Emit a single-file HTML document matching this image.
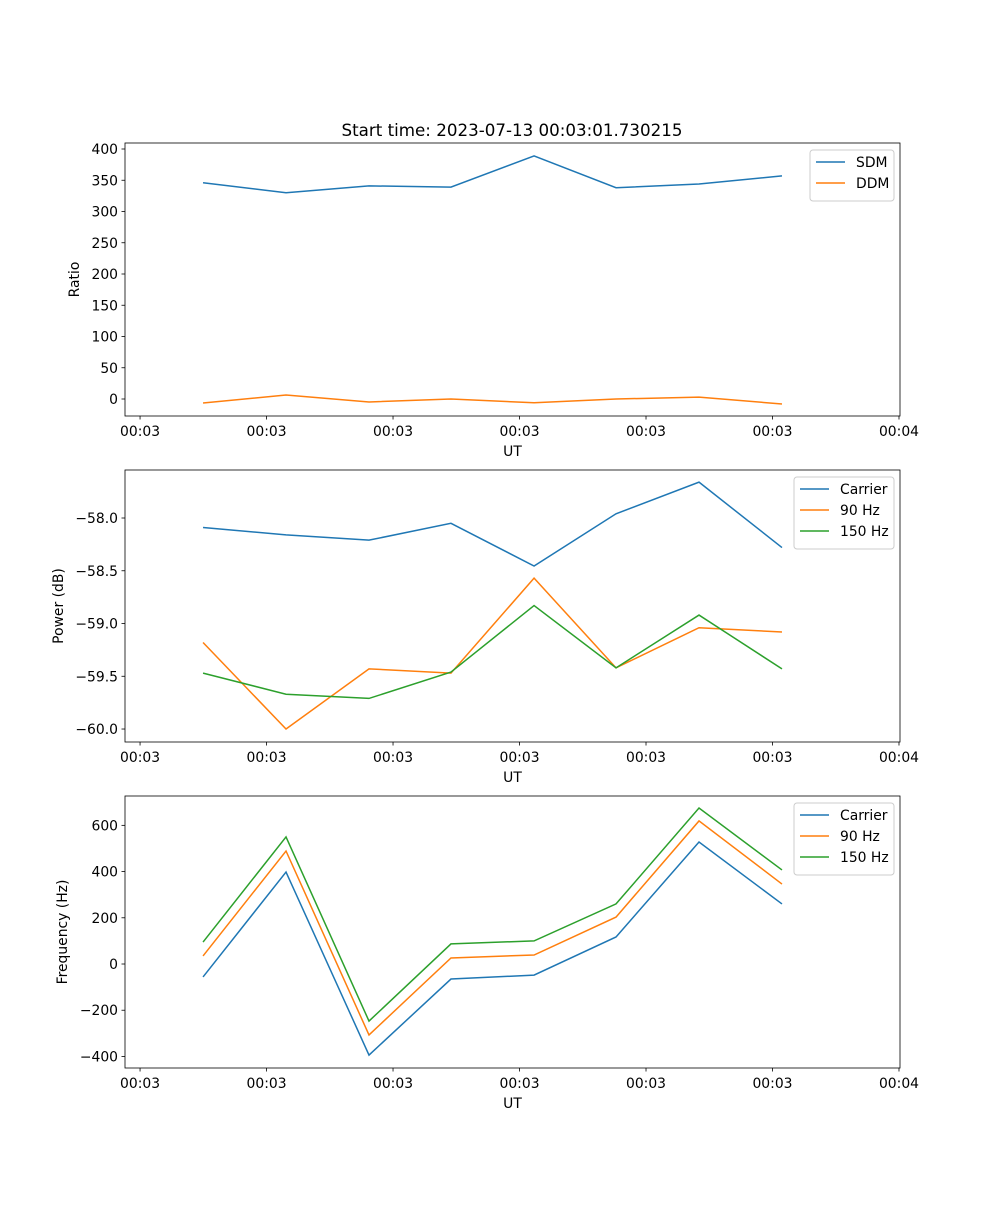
<!DOCTYPE html>
<html><head><meta charset="utf-8"><style>
body{margin:0;background:#fff;}
svg text{font-family:"DejaVu Sans","Liberation Sans",sans-serif;fill:#000;}
</style></head><body>
<svg id="chart" width="1000" height="1200" xmlns="http://www.w3.org/2000/svg">
<rect width="1000" height="1200" fill="#fff"/>
<text x="512" y="136" font-size="16.7" text-anchor="middle">Start time: 2023-07-13 00:03:01.730215</text>
</svg>
<script>
const timeSec = [4.98, 11.54, 18.10, 24.58, 31.15, 37.63, 44.19, 50.75];
const xTickSec = [0, 10, 20, 30, 40, 50, 60];
const xTickLabels = ["00:03","00:03","00:03","00:03","00:03","00:03","00:04"];
const sdm = [346, 330, 341, 339, 389, 338, 344, 357];
const ddm = [-6.4, 6.4, -4.8, 0, -6, 0, 3, -8];
const ratioTicks = [0,50,100,150,200,250,300,350,400];
const pCarrier = [-58.09, -58.16, -58.21, -58.05, -58.455, -57.96, -57.66, -58.28];
const p90 = [-59.18, -60.0, -59.43, -59.47, -58.57, -59.42, -59.04, -59.08];
const p150 = [-59.47, -59.67, -59.71, -59.46, -58.83, -59.42, -58.92, -59.43];
const powerTicks = [-60.0,-59.5,-59.0,-58.5,-58.0];
const fCarrier = [-56, 398, -394, -65, -48, 117, 528, 260];
const f90 = [35, 489, -307, 26, 39, 203, 619, 346];
const f150 = [95, 550, -247, 87, 100, 260, 675, 407];
const freqTicks = [-400,-200,0,200,400,600];

const NS="http://www.w3.org/2000/svg";
const svg=document.getElementById('chart');
function mk(tag,attrs,parent){const e=document.createElementNS(NS,tag);for(const k in attrs)e.setAttribute(k,attrs[k]);(parent||svg).appendChild(e);return e;}
const L=125,R=900;
const xMin=-1.19,xMax=60.08;
function xs(t){return L+(t-xMin)/(xMax-xMin)*(R-L);}
const C=["#1f77b4","#ff7f0e","#2ca02c"];
const FS=13.9;

function panel(name,top,bot,yMin,yMax,ticks,fmt,series,labels,ylabel,legend){
  const g=mk('g',{});
  
  
  const ys=v=>bot-(v-yMin)/(yMax-yMin)*(bot-top);
  series.forEach((s,i)=>{
    const p=mk('polyline',{points:s.map((v,j)=>xs(timeSec[j])+','+ys(v)).join(' '),fill:'none',stroke:C[i],'stroke-width':1.5},g);
    
    
  });
  const ax=mk('rect',{x:L,y:top,width:R-L,height:bot-top,fill:'none',stroke:'#000','stroke-width':0.8},g);
  
  
  xTickSec.forEach((t,i)=>{
    const x=xs(t);
    mk('line',{x1:x,x2:x,y1:bot,y2:bot+3.5,stroke:'#000','stroke-width':0.8},g);
    const tx=mk('text',{x:x,y:bot+20,'font-size':FS,'text-anchor':'middle'},g);
    tx.textContent=xTickLabels[i];
    
    
  });
  ticks.forEach(v=>{
    const y=ys(v);
    mk('line',{x1:L-3.5,x2:L,y1:y,y2:y,stroke:'#000','stroke-width':0.8},g);
    const tx=mk('text',{x:L-7,y:y+5,'font-size':FS,'text-anchor':'end'},g);
    tx.textContent=fmt(v);
    
    
  });
  const xl=mk('text',{x:(L+R)/2,y:bot+40,'font-size':FS,'text-anchor':'middle'},g);
  xl.textContent='UT';
  
  
  const cy=(top+bot)/2;
  const yl=mk('text',{x:legend.ylx,y:cy,'font-size':FS,'text-anchor':'middle',transform:'rotate(-90 '+legend.ylx+' '+cy+')'},g);
  yl.textContent=ylabel;
  
  
  const lg=mk('g',{},g);
  
  
  const h=9+labels.length*21;
  mk('rect',{x:legend.x,y:top+7,width:R-6-legend.x,height:h,rx:3,fill:'#fff','fill-opacity':0.8,stroke:'#ccc','stroke-width':1},lg);
  labels.forEach((lab,i)=>{
    const y=top+19+i*21;
    mk('line',{x1:legend.x+6,x2:legend.x+35,y1:y,y2:y,stroke:C[i],'stroke-width':1.5},lg);
    const t=mk('text',{x:legend.x+46,y:y+5,'font-size':FS},lg);
    t.textContent=lab;
    
    
  });
}
const minus=s=>s.replace('-','\u2212');
panel('ratio',143,416,-27.2,409.6,ratioTicks,v=>minus(String(v)),[sdm,ddm],['SDM','DDM'],'Ratio',{x:810,ylx:79});
panel('power',470,742,-60.123,-57.545,powerTicks,v=>minus(v.toFixed(1)),[pCarrier,p90,p150],['Carrier','90 Hz','150 Hz'],'Power (dB)',{x:794,ylx:63});
panel('frequency',796,1068,-450,727,freqTicks,v=>minus(String(v)),[fCarrier,f90,f150],['Carrier','90 Hz','150 Hz'],'Frequency (Hz)',{x:794,ylx:67});
</script>
</body></html>
